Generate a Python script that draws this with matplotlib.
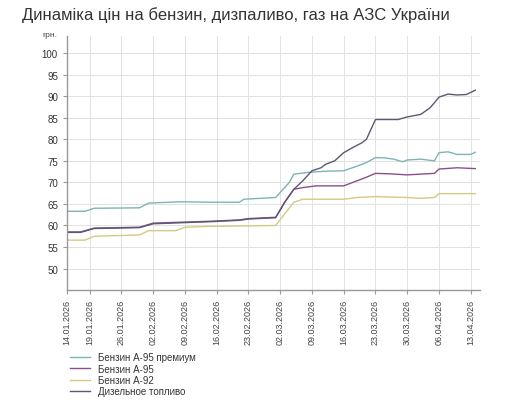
import datetime as dt

import matplotlib
matplotlib.use("Agg")
import matplotlib.pyplot as plt
import matplotlib.dates as mdates

plt.rcParams['font.family'] = ['Liberation Sans', 'DejaVu Sans']

start = dt.date(2026, 1, 14)

# days since 14.01.2026 and prices (грн.)
premium_days = [0, 4, 6, 16, 18, 25, 32, 38, 39, 46, 49, 50, 53, 57, 61, 64, 66, 68, 70, 72, 74, 75, 78, 81, 82, 84, 86, 89, 90]
premium_vals = [63.3, 63.3, 64.0, 64.1, 65.2, 65.5, 65.4, 65.4, 66.1, 66.5, 70.0, 71.9, 72.3, 72.6, 72.7, 73.8, 74.6, 75.75, 75.7, 75.4, 74.8, 75.2, 75.4, 75.0, 76.9, 77.1, 76.5, 76.5, 77.0]

a95_days = [0, 3, 6, 16, 19, 32, 38, 40, 46, 48, 50, 52, 55, 59, 61, 64, 66, 68, 71, 75, 81, 82, 86, 90]
a95_vals = [58.5, 58.5, 59.4, 59.6, 60.55, 61.0, 61.3, 61.6, 61.9, 65.4, 68.4, 68.8, 69.2, 69.2, 69.2, 70.4, 71.2, 72.1, 72.0, 71.75, 72.1, 73.1, 73.4, 73.2]

a92_days = [0, 4, 6, 16, 18, 24, 26, 32, 46, 50, 52, 61, 64, 68, 75, 78, 81, 82, 90]
a92_vals = [56.6, 56.6, 57.5, 57.8, 58.8, 58.8, 59.6, 59.8, 60.0, 65.4, 66.1, 66.1, 66.5, 66.7, 66.5, 66.3, 66.5, 67.4, 67.4]

diesel_days = [0, 3, 6, 16, 19, 32, 38, 40, 46, 48, 50, 52, 54, 56, 57, 59, 61, 63, 65, 66, 67, 68, 71, 73, 75, 78, 80, 81, 82, 84, 86, 88, 90]
diesel_vals = [58.4, 58.4, 59.3, 59.5, 60.4, 60.9, 61.2, 61.5, 61.8, 65.4, 68.4, 70.4, 72.7, 73.4, 74.2, 75.0, 76.9, 78.1, 79.2, 80.0, 82.3, 84.6, 84.6, 84.6, 85.2, 85.8, 87.3, 88.5, 89.8, 90.5, 90.3, 90.4, 91.4]

tick_dates = ['14.01.2026', '19.01.2026', '26.01.2026', '02.02.2026', '09.02.2026',
              '16.02.2026', '23.02.2026', '02.03.2026', '09.03.2026', '16.03.2026',
              '23.03.2026', '30.03.2026', '06.04.2026', '13.04.2026']

series = [
    ('Бензин А-95 премиум', premium_days, premium_vals, '#7eb3b6'),
    ('Бензин А-95', a95_days, a95_vals, '#8a4f8c'),
    ('Бензин А-92', a92_days, a92_vals, '#d6c885'),
    ('Дизельное топливо', diesel_days, diesel_vals, '#5d5772'),
]


def to_dates(days):
    return [start + dt.timedelta(days=d) for d in days]


fig = plt.figure(figsize=(5.11, 4.06), dpi=100)
ax = fig.add_axes([0.131, 0.283, 0.808, 0.626])

for name, days, vals, color in series:
    ax.plot(to_dates(days), vals, color=color, lw=1.0, label=name)

ticks = [dt.datetime.strptime(t, '%d.%m.%Y').date() for t in tick_dates]
ax.set_xticks(ticks)
ax.xaxis.set_major_formatter(mdates.DateFormatter('%d.%m.%Y'))
ax.set_xlim(start - dt.timedelta(hours=16), start + dt.timedelta(days=91.5))
ax.set_ylim(45, 104)
ax.set_yticks(range(50, 101, 5))

ax.grid(True, color='#e2e2e2', lw=0.7)
ax.set_axisbelow(True)
for side in ['top', 'right']:
    ax.spines[side].set_visible(False)
for side in ['left', 'bottom']:
    ax.spines[side].set_color('#999999')
    ax.spines[side].set_linewidth(1.0)
ax.tick_params(axis='x', labelrotation=90, labelsize=6.5, colors='#444444', length=3, color='#999999')
ax.tick_params(axis='y', labelsize=7, colors='#333333', length=3, color='#999999')

fig.text(0.043, 0.963, 'Динаміка цін на бензин, дизпаливо, газ на АЗС України',
         fontsize=12, color='#333333', va='center', ha='left')
fig.text(0.083, 0.913, 'грн.', fontsize=6, color='#444444', va='center', ha='left')

fig.legend(loc='upper left', bbox_to_anchor=(0.13, 0.14), frameon=False,
           fontsize=7, handlelength=2.0, labelspacing=0.15, handletextpad=0.8,
           borderaxespad=0, labelcolor='#333333')

fig.savefig('out.png', dpi=100)
